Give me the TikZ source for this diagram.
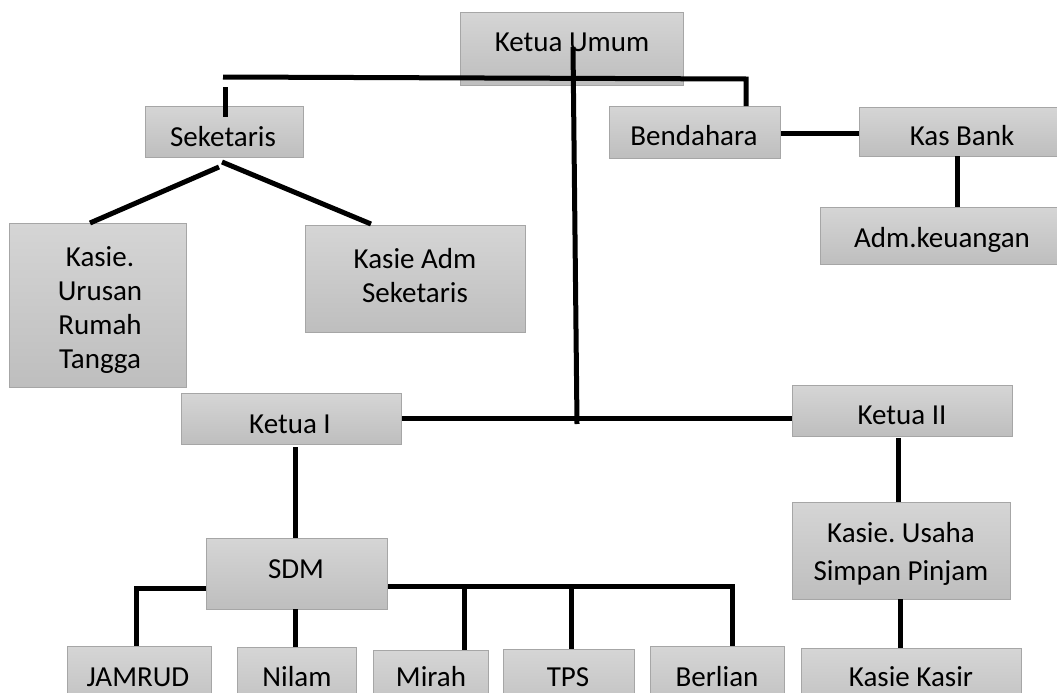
\documentclass[tikz,border=0pt]{standalone}
\usepackage{fontspec}
\setmainfont{Carlito}
\frenchspacing
\definecolor{boxtop}{RGB}{213,213,213}
\definecolor{boxbot}{RGB}{190,190,190}
\definecolor{boxline}{RGB}{166,166,166}
\tikzset{
  orgbox/.style={draw=boxline, line width=1.3pt, top color=boxtop, bottom color=boxbot,
    inner sep=0pt, anchor=north west},
  lbl/.style={anchor=base, inner sep=0pt, align=center, text=black,
    font=\fontsize{29}{34}\selectfont\frenchspacing},
  conn/.style={line width=5pt, black},
}
\begin{document}
\begin{tikzpicture}[x=1pt, y=-1pt]
\useasboundingbox (0,0) rectangle (1057,693);
\clip (0,0) rectangle (1057,693);
% boxes
\node[orgbox, minimum width=223pt, minimum height=73pt] (ku)  at (460,12)  {};
\node[orgbox, minimum width=158pt, minimum height=51pt] (sek) at (145,106) {};
\node[orgbox, minimum width=171pt, minimum height=52pt] (ben) at (609,106) {};
\node[orgbox, minimum width=206pt, minimum height=49pt] (kas) at (859,107) {};
\node[orgbox, minimum width=245pt, minimum height=57pt] (adm) at (820,207) {};
\node[orgbox, minimum width=177pt, minimum height=164pt] (kur) at (9,223) {};
\node[orgbox, minimum width=220pt, minimum height=107pt] (kad) at (305,225) {};
\node[orgbox, minimum width=220pt, minimum height=51pt] (ka) at (181,393) {};
\node[orgbox, minimum width=220pt, minimum height=51pt] (kb) at (792,385) {};
\node[orgbox, minimum width=218pt, minimum height=97pt] (ksp) at (792,502) {};
\node[orgbox, minimum width=220pt, minimum height=70pt] (kk) at (801,648) {};
\node[orgbox, minimum width=181pt, minimum height=71pt] (sdm) at (206,538) {};
\node[orgbox, minimum width=144pt, minimum height=70pt] (jam) at (67,646) {};
\node[orgbox, minimum width=119pt, minimum height=70pt] (nil) at (237,647) {};
\node[orgbox, minimum width=115pt, minimum height=70pt] (mir) at (373,650) {};
\node[orgbox, minimum width=131pt, minimum height=70pt] (tps) at (503,649) {};
\node[orgbox, minimum width=134pt, minimum height=70pt] (ber) at (650,646) {};
% texts (base anchor = baseline of the last line)
\node[lbl] (tku)  at (572,52)  {Ketua Umum};
\node[lbl] (tsek) at (223,146) {Seketaris};
\node[lbl] (tben) at (694,145) {Bendahara};
\node[lbl] (tkas) at (962,145) {Kas Bank};
\node[lbl] (tadm) at (942,247) {Adm.keuangan};
\node[lbl] (tkur) at (100,368) {Kasie.\\Urusan\\Rumah\\Tangga};
\node[lbl] (tkad) at (415,302) {Kasie Adm\\Seketaris};
\node[lbl] (tka)  at (290,433) {Ketua I};
\node[lbl] (tkb)  at (902,424) {Ketua II};
\node[lbl, font=\fontsize{29}{38}\selectfont\frenchspacing] (tksp) at (901,580) {Kasie. Usaha\\Simpan Pinjam};
\node[lbl] (tkk)  at (911,686) {Kasie Kasir};
\node[lbl] (tsdm) at (296,578) {SDM};
\node[lbl] (tjam) at (138,686) {JAMRUD};
\node[lbl] (tnil) at (297,686) {Nilam};
\node[lbl] (tmir) at (431,686) {Mirah};
\node[lbl] (ttps) at (568,686) {TPS};
\node[lbl] (tber) at (717,686) {Berlian};
% connector points
\coordinate (hl) at (223,77);
\coordinate (hr) at (746,79);
\coordinate (st1) at (225,87);
\coordinate (st2) at (225,117);
\coordinate (vt) at (573,47);
\coordinate (vb) at (577,424);
\coordinate (sl1) at (219,167);
\coordinate (sl2) at (90,223);
\coordinate (sr1) at (222,162);
\coordinate (sr2) at (371,224);
\coordinate (jb) at (136,588);
\coordinate (br) at (732,586);
% connectors
\draw[conn] (hl) -- (hr) -- (hr |- ben.north);
\draw[conn] (st1) -- (st2);
\draw[conn] (vt) -- (vb);
\draw[conn] (ka.east |- 0,418) -- (kb.west |- 0,418);
\draw[conn] (sl1) -- (sl2);
\draw[conn] (sr1) -- (sr2);
\draw[conn] (ben.east |- 0,133) -- (kas.west |- 0,133);
\draw[conn] (957,156) coordinate (kab) -- (kab |- adm.north);
\draw[conn] (898,438) coordinate (kbb) -- (kbb |- ksp.north);
\draw[conn] (900,599) coordinate (kspb) -- (kspb |- kk.north);
\draw[conn] (295,447) coordinate (kab1) -- (kab1 |- sdm.north);
\draw[conn] (sdm.west |- jb) -- (jb) -- (jb |- jam.north);
\draw[conn] (295,609) coordinate (sdmb) -- (sdmb |- nil.north);
\draw[conn] (sdm.east |- br) -- (br) -- (br |- ber.north);
\draw[conn] (464,586) coordinate (mb) -- (mb |- mir.north);
\draw[conn] (571,586) coordinate (tb) -- (tb |- tps.north);
\end{tikzpicture}
\end{document}
